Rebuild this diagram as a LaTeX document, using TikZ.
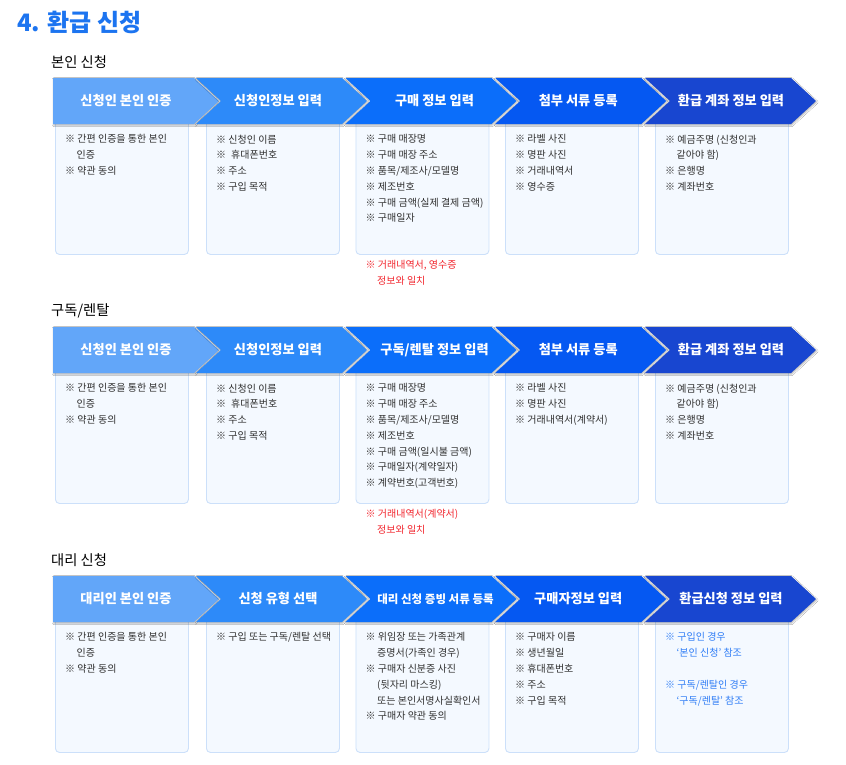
\documentclass[tikz,border=0pt]{standalone}
\usepackage{fontspec}
\setmainfont{Noto Sans CJK KR}
\usetikzlibrary{shadows.blur}
\definecolor{titleblue}{HTML}{1C74F0}
\definecolor{cA}{HTML}{62A6F9}
\definecolor{cB}{HTML}{2D8AF9}
\definecolor{cC}{HTML}{0B6EFA}
\definecolor{cD}{HTML}{0558F2}
\definecolor{cE}{HTML}{1846D0}
\definecolor{boxfill}{HTML}{F4F9FF}
\definecolor{boxline}{HTML}{CCE0FA}
\definecolor{bodytext}{HTML}{303030}
\definecolor{notered}{HTML}{F2262E}
\definecolor{noteblue}{HTML}{2F7DF6}
\tikzset{
  arrowshade/.style={blur shadow={shadow xshift=0.6pt, shadow yshift=-1.2pt, shadow blur steps=4, shadow blur radius=1.5pt, shadow opacity=30}},
  arrowlabel/.style={text=white, font=\bfseries\fontsize{13.2}{15}\selectfont, inner sep=0pt},
  infobox/.style={draw=boxline, fill=boxfill, line width=0.9pt, rounded corners=4pt, minimum width=133pt, minimum height=136pt, inner sep=0pt},
  infotext/.style={text=bodytext, font=\fontsize{10}{15.8}\selectfont, align=left, inner sep=0pt},
  rednote/.style={text=notered, font=\fontsize{10}{15.8}\selectfont, align=left, inner sep=0pt},
  bluenote/.style={text=noteblue, font=\fontsize{10}{15.8}\selectfont, align=left, inner sep=0pt},
  heading/.style={text=black, font=\fontsize{14.3}{16}\selectfont, inner sep=0pt, anchor=west},
}
\newcommand{\firstchev}[4]{% name, top, color, label
  \fill[#3, arrowshade] (53,#2) -- (194,#2) -- (219,#2+23) -- (194,#2+46) -- (53,#2+46) -- cycle;
  \node[arrowlabel] (#1) at (126,#2+23) {#4};}
\newcommand{\nextchev}[6]{% name, left, top, color, label shift, label
  \fill[#4, arrowshade] (#2,#3) -- (#2+146,#3) -- (#2+171,#3+23) -- (#2+146,#3+46) -- (#2,#3+46) -- (#2+25,#3+23) -- cycle;
  \node[arrowlabel] (#1) at (#2+#5,#3+23) {#6};}
\newcommand{\infopanel}[4]{% name, left, top, content
  \node[infobox, anchor=north west] (#1) at (#2,#3+40) {};
  \node[infotext, anchor=north west] (#1t) at (#2+10,#3+56.5) {#4};}
\newcommand{\ind}{\hspace*{11.5pt}}
\begin{document}
\begin{tikzpicture}[x=1pt,y=-1pt]
\useasboundingbox[fill=white] (0,0) rectangle (846,764);
\node[anchor=west, inner sep=0pt, text=titleblue, font=\bfseries\fontsize{24}{27}\selectfont] (title) at (17,22) {4. 환급 신청};

% ---------- Row 1 ----------
\node[heading] (h1) at (51,62) {본인 신청};
\infopanel{ra1}{55}{78}{※ 간편 인증을 통한 본인\\\ind 인증\\※ 약관 동의}
\infopanel{ra2}{206}{78}{※ 신청인 이름\\※\hspace{5pt}휴대폰번호\\※ 주소\\※ 구입 목적}
\infopanel{ra3}{355.5}{78}{※ 구매 매장명\\※ 구매 매장 주소\\※ 품목/제조사/모델명\\※ 제조번호\\※ 구매 금액(실제 결제 금액)\\※ 구매일자}
\infopanel{ra4}{505}{78}{※ 라벨 사진\\※ 명판 사진\\※ 거래내역서\\※ 영수증}
\infopanel{ra5}{655}{78}{※ 예금주명 (신청인과\\\ind 같아야 함)\\※ 은행명\\※ 계좌번호}
\node[rednote, anchor=north west] (na) at (365.5,78+182.5) {※ 거래내역서, 영수증\\\ind 정보와 일치};
\firstchev{a1}{78}{cA}{신청인 본인 인증}
\nextchev{a2}{196}{78}{cB}{82}{신청인정보 입력}
\nextchev{a3}{345.5}{78}{cC}{89}{구매 정보 입력}
\nextchev{a4}{495.25}{78}{cD}{83}{첨부 서류 등록}
\nextchev{a5}{645}{78}{cE}{86}{환급 계좌 정보 입력}

% ---------- Row 2 ----------
\node[heading] (h2) at (51,311) {구독/렌탈};
\infopanel{rb1}{55}{327}{※ 간편 인증을 통한 본인\\\ind 인증\\※ 약관 동의}
\infopanel{rb2}{206}{327}{※ 신청인 이름\\※\hspace{5pt}휴대폰번호\\※ 주소\\※ 구입 목적}
\infopanel{rb3}{355.5}{327}{※ 구매 매장명\\※ 구매 매장 주소\\※ 품목/제조사/모델명\\※ 제조번호\\※ 구매 금액(일시불 금액)\\※ 구매일자(계약일자)\\※ 계약번호(고객번호)}
\infopanel{rb4}{505}{327}{※ 라벨 사진\\※ 명판 사진\\※ 거래내역서(계약서)}
\infopanel{rb5}{655}{327}{※ 예금주명 (신청인과\\\ind 같아야 함)\\※ 은행명\\※ 계좌번호}
\node[rednote, anchor=north west] (nb) at (365.5,327+182.5) {※ 거래내역서(계약서)\\\ind 정보와 일치};
\firstchev{b1}{327}{cA}{신청인 본인 인증}
\nextchev{b2}{196}{327}{cB}{82}{신청인정보 입력}
\nextchev{b3}{345.5}{327}{cC}{89}{구독/렌탈 정보 입력}
\nextchev{b4}{495.25}{327}{cD}{83}{첨부 서류 등록}
\nextchev{b5}{645}{327}{cE}{86}{환급 계좌 정보 입력}

% ---------- Row 3 ----------
\node[heading] (h3) at (51,560) {대리 신청};
\infopanel{rc1}{55}{576}{※ 간편 인증을 통한 본인\\\ind 인증\\※ 약관 동의}
\infopanel{rc2}{206}{576}{※ 구입 또는 구독/렌탈 선택}
\infopanel{rc3}{355.5}{576}{※ 위임장 또는 가족관계\\\ind 증명서(가족인 경우)\\※ 구매자 신분증 사진\\\ind (뒷자리 마스킹)\\\ind 또는 본인서명사실확인서\\※ 구매자 약관 동의}
\infopanel{rc4}{505}{576}{※ 구매자 이름\\※ 생년월일\\※ 휴대폰번호\\※ 주소\\※ 구입 목적}
\node[infobox, anchor=north west] (rc5) at (655,576+40) {};
\node[bluenote, anchor=north west] (rc5t) at (665,576+56.5) {※ 구입인 경우\\\ind ‘본인 신청’ 참조\\[15.8pt]※ 구독/렌탈인 경우\\\ind ‘구독/렌탈’ 참조};
\firstchev{c1}{576}{cA}{대리인 본인 인증}
\nextchev{c2}{196}{576}{cB}{82}{신청 유형 선택}
\nextchev{c3}{345.5}{576}{cC}{90}{\fontsize{11.5}{13}\selectfont 대리 신청 증빙 서류 등록}
\nextchev{c4}{495.25}{576}{cD}{83}{구매자정보 입력}
\nextchev{c5}{645}{576}{cE}{86}{환급신청 정보 입력}
\end{tikzpicture}
\end{document}
